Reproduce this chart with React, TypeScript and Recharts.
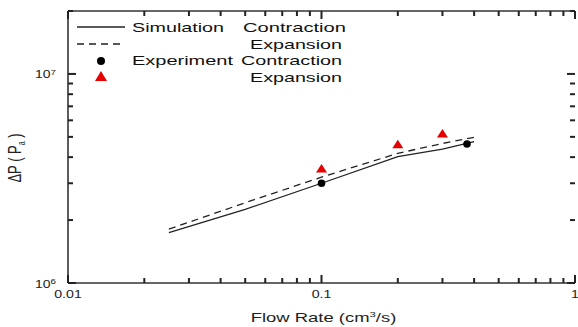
import { ComposedChart, Line, Scatter, XAxis, YAxis, Legend } from 'recharts';

// flow rate (cm^3/s) vs pressure drop (Pa)
const simContraction = [
  { x: 0.025, y: 1.74e6 },
  { x: 0.05, y: 2.25e6 },
  { x: 0.1, y: 3.0e6 },
  { x: 0.2, y: 4.02e6 },
  { x: 0.3, y: 4.37e6 },
  { x: 0.4, y: 4.74e6 },
];
const simExpansion = [
  { x: 0.025, y: 1.81e6 },
  { x: 0.05, y: 2.42e6 },
  { x: 0.1, y: 3.21e6 },
  { x: 0.2, y: 4.17e6 },
  { x: 0.3, y: 4.65e6 },
  { x: 0.4, y: 4.98e6 },
];
const expContraction = [
  { x: 0.1, y: 3.0e6 },
  { x: 0.375, y: 4.62e6 },
];
const expExpansion = [
  { x: 0.1, y: 3.51e6 },
  { x: 0.2, y: 4.59e6 },
  { x: 0.3, y: 5.16e6 },
];

const xTicks = [0.01, 0.02, 0.03, 0.04, 0.05, 0.06, 0.07, 0.08, 0.09, 0.1, 0.2, 0.3, 0.4, 0.5, 0.6, 0.7, 0.8, 0.9, 1];
const xMajor = [0.01, 0.1, 1];
const xLabels = ['0.01', '0.1', '1'];
const yTicks = [1e6, 2e6, 3e6, 4e6, 5e6, 6e6, 7e6, 8e6, 9e6, 1e7, 2e7];
const yMajor = [1e6, 1e7];
const yExponents = ['6', '7'];

const AXIS = '#333';
const TICK = '#222';
const FONT = '"Liberation Sans", Arial, sans-serif';
// plot frame edges (follow from the chart margins and axis sizes below)
const PLOT_LEFT = 68;
const PLOT_RIGHT = 575;
const PLOT_TOP = 11;
const PLOT_BOTTOM = 283;

const majorIndex = (list: number[], v: number) => list.findIndex((m) => Math.abs(m - v) / m < 1e-6);

// bottom axis tick: inward tick on the bottom and the top edge
const XTick = (props: any) => {
  const { x, payload } = props;
  const i = majorIndex(xMajor, payload.value);
  const len = i >= 0 ? 8 : 5;
  return (
    <g>
      <line x1={x} x2={x} y1={PLOT_BOTTOM} y2={PLOT_BOTTOM - len} stroke={TICK} strokeWidth={2} />
      <line x1={x} x2={x} y1={PLOT_TOP} y2={PLOT_TOP + len} stroke={TICK} strokeWidth={2} />
      {i >= 0 && (
        <text transform={`translate(${x},${PLOT_BOTTOM + 15}) scale(1.35,1)`} textAnchor="middle" fontSize={10.5} fontFamily={FONT} fill="#222">
          {xLabels[i]}
        </text>
      )}
    </g>
  );
};

// left axis tick: inward tick on the left and the right edge
const YTick = (props: any) => {
  const { y, payload } = props;
  const i = majorIndex(yMajor, payload.value);
  const len = i >= 0 ? 8 : 5;
  return (
    <g>
      <line x1={PLOT_LEFT} x2={PLOT_LEFT + len} y1={y} y2={y} stroke={TICK} strokeWidth={2} />
      <line x1={PLOT_RIGHT} x2={PLOT_RIGHT - len} y1={y} y2={y} stroke={TICK} strokeWidth={2} />
      {i >= 0 && (
        <text transform={`translate(${PLOT_LEFT - 12},${y + 4.5}) scale(1.4,1)`} textAnchor="end" fontSize={10} fontFamily={FONT} fill="#222">
          10
          <tspan dy={-3.5} fontSize={7}>{yExponents[i]}</tspan>
        </text>
      )}
    </g>
  );
};

const Dot = (props: any) => <circle cx={props.cx} cy={props.cy} r={3.8} fill="#000" />;
const Tri = (props: any) => {
  const { cx, cy } = props;
  return <polygon points={`${cx},${cy - 5} ${cx - 5.5},${cy + 3.5} ${cx + 5.5},${cy + 3.5}`} fill="#e60000" />;
};

// legend sits inside the plot, top-left; coordinates are relative to (72, 18)
const LegendBox = () => (
  <svg width={285} height={70} style={{ display: 'block', overflow: 'visible' }}>
    <g transform="translate(-72,-18)" fontFamily={FONT} fontSize={13} fill="#111">
      <line x1={77} x2={125} y1={27} y2={27} stroke="#222" strokeWidth={1.3} />
      <text x={132} y={32} textLength={92} lengthAdjust="spacingAndGlyphs">Simulation</text>
      <text x={243} y={32} textLength={103} lengthAdjust="spacingAndGlyphs">Contraction</text>
      <line x1={77} x2={125} y1={44} y2={44} stroke="#222" strokeWidth={1.3} strokeDasharray="7 5" />
      <text x={250} y={49} textLength={92} lengthAdjust="spacingAndGlyphs">Expansion</text>
      <circle cx={101} cy={61} r={4} fill="#000" />
      <text x={132} y={65} textLength={101} lengthAdjust="spacingAndGlyphs">Experiment</text>
      <text x={241} y={65} textLength={101} lengthAdjust="spacingAndGlyphs">Contraction</text>
      <polygon points="101,71 95,81 107,81" fill="#e60000" />
      <text x={250} y={82} textLength={92} lengthAdjust="spacingAndGlyphs">Expansion</text>
    </g>
  </svg>
);

export default function App() {
  return (
    <div style={{ position: 'absolute', left: 0, top: 0, background: '#fff' }}>
      <ComposedChart width={578} height={327} margin={{ top: 10, right: 3, left: 0, bottom: 0 }}>
        <XAxis
          xAxisId="bottom"
          dataKey="x"
          type="number"
          scale="log"
          domain={[0.01, 1]}
          allowDataOverflow
          ticks={xTicks}
          interval={0}
          height={44}
          tickSize={0}
          tickMargin={0}
          tickLine={false}
          tick={XTick}
          axisLine={{ stroke: AXIS, strokeWidth: 1.6 }}
          label={() => (
            <text transform="translate(323.5,322) scale(1.42,1)" textAnchor="middle" fontSize={13} fontFamily={FONT} fill="#222">
              Flow Rate (cm
              <tspan dy={-5} fontSize={8}>3</tspan>
              <tspan dy={5}>/s)</tspan>
            </text>
          )}
        />
        <XAxis
          xAxisId="top"
          orientation="top"
          type="number"
          scale="log"
          domain={[0.01, 1]}
          allowDataOverflow
          height={1}
          tick={false}
          tickLine={false}
          axisLine={{ stroke: AXIS, strokeWidth: 1.6 }}
        />
        <YAxis
          yAxisId="left"
          dataKey="y"
          type="number"
          scale="log"
          domain={[1e6, 2e7]}
          allowDataOverflow
          ticks={yTicks}
          interval={0}
          width={68}
          tickSize={0}
          tickMargin={0}
          tickLine={false}
          tick={YTick}
          axisLine={{ stroke: AXIS, strokeWidth: 1.6 }}
          label={() => (
            <text transform="translate(20.5,158) scale(1.45,1) rotate(-90)" textAnchor="middle" fontSize={13} fontFamily={FONT} fill="#222">
              ΔP ( P
              <tspan dy={3} fontSize={7}>a</tspan>
              <tspan dy={-3}> )</tspan>
            </text>
          )}
        />
        <YAxis
          yAxisId="right"
          orientation="right"
          type="number"
          scale="log"
          domain={[1e6, 2e7]}
          allowDataOverflow
          width={0}
          tick={false}
          tickLine={false}
          axisLine={{ stroke: AXIS, strokeWidth: 1.6 }}
        />
        <Legend
          layout="vertical"
          align="center"
          verticalAlign="middle"
          content={LegendBox}
          wrapperStyle={{ position: 'absolute', left: 72, top: 18, width: 285, height: 70 }}
        />
        <Line xAxisId="bottom" yAxisId="left" data={simContraction} dataKey="y" type="linear" stroke="#222" strokeWidth={1.3} dot={false} isAnimationActive={false} />
        <Line xAxisId="bottom" yAxisId="left" data={simExpansion} dataKey="y" type="linear" stroke="#222" strokeWidth={1.3} strokeDasharray="7 5" dot={false} isAnimationActive={false} />
        <Scatter xAxisId="bottom" yAxisId="left" data={expContraction} dataKey="y" shape={Dot} isAnimationActive={false} />
        <Scatter xAxisId="bottom" yAxisId="left" data={expExpansion} dataKey="y" shape={Tri} isAnimationActive={false} />
      </ComposedChart>
    </div>
  );
}
